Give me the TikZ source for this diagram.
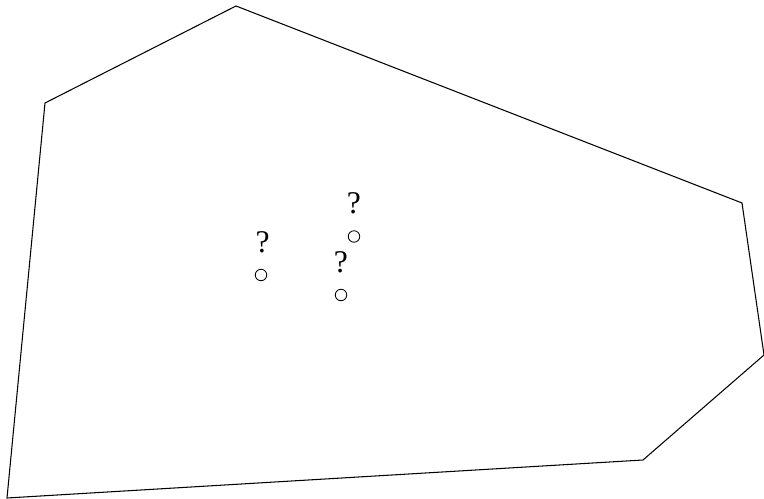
\documentclass[tikz,border=0pt]{standalone}
\usepackage{fontspec}
\setmainfont{Liberation Serif}
\usetikzlibrary{positioning}
\begin{document}
\begin{tikzpicture}[x=0.02cm,y=-0.02cm]
      \tikzset{site/.style={circle,draw,inner sep=0pt,minimum size=0.23cm,line width=0.5pt},
               qmark/.style={inner sep=0pt,font=\fontsize{18}{21}\selectfont}}
      \useasboundingbox (0,0) rectangle (764,499);
      \coordinate (A) at (236,6);
      \coordinate (B) at (742,203);
      \coordinate (C) at (764,355);
      \coordinate (D) at (643,460);
      \coordinate (E) at (7,498);
      \coordinate (F) at (45,103);

      % BOUNDARY
      \draw[line width=0.6pt] (A) -- (B) -- (C) -- (D) -- (E) -- (F) -- cycle;

      % SITES
      \node[site] (s1) at (261,275) {};
      \node[site] (s2) at (354,236.5) {};
      \node[site] (s3) at (341,295) {};
      \node[qmark, above=9pt of s1, xshift=1pt] (q1) {?};
      \node[qmark, above=9pt of s2] (q2) {?};
      \node[qmark, above=9pt of s3] (q3) {?};
    \end{tikzpicture}
\end{document}
